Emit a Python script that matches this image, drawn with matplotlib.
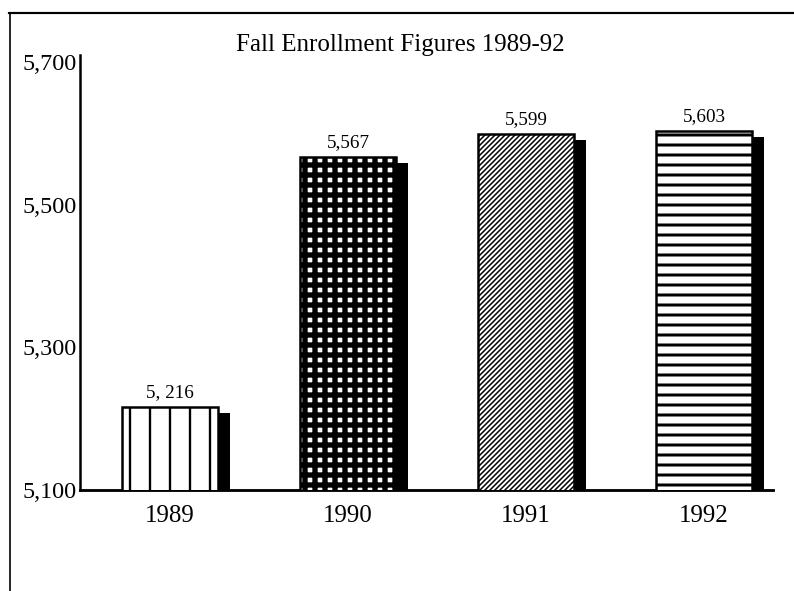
import matplotlib
matplotlib.use("Agg")
import matplotlib.pyplot as plt
from matplotlib.lines import Line2D

years = ["1989", "1990", "1991", "1992"]
enrollment = [5216, 5567, 5599, 5603]
value_labels = ["5, 216", "5,567", "5,599", "5,603"]
ytick_values = [5100, 5300, 5500, 5700]
ytick_labels = ["5,100", "5,300", "5,500", "5,700"]
title = "Fall Enrollment Figures 1989-92"

hatches = ["|", "++", "////////", "--"]
hatch_lw = [1.4, 3.2, 0.9, 1.8]

plt.rcParams["font.family"] = ["Liberation Serif", "DejaVu Serif"]

DPI = 120
fig = plt.figure(figsize=(794 / DPI, 591 / DPI), dpi=DPI)
ax = fig.add_axes([0.101, 0.171, 0.873, 0.736])

x = list(range(len(years)))
width = 0.54
shadow_dx = 0.065

# shadows
ax.bar([xi + shadow_dx for xi in x], [v - 8 for v in enrollment], width=width,
       bottom=0, color="black", edgecolor="black", linewidth=0, zorder=2)

for xi, v, h, lw in zip(x, enrollment, hatches, hatch_lw):
    with plt.rc_context({"hatch.linewidth": lw, "hatch.color": "black"}):
        b = ax.bar(xi, v, width=width, color="white", edgecolor="black",
                   linewidth=1.5, hatch=h, zorder=3)
        for p in b.patches:
            if hasattr(p, "set_hatch_linewidth"):
                p.set_hatch_linewidth(lw)

for xi, v, lab in zip(x, enrollment, value_labels):
    ax.text(xi, v + 8, lab, ha="center", va="bottom", fontsize=11.5)

ax.set_ylim(5100, 5710)
ax.set_xlim(-0.506, 3.39)
ax.set_yticks(ytick_values)
ax.set_yticklabels(ytick_labels, fontsize=14.5)
ax.set_xticks(x)
ax.set_xticklabels(years, fontsize=15)
ax.tick_params(axis="both", length=0, pad=2)
ax.tick_params(axis="x", pad=9)
for s in ["top", "right"]:
    ax.spines[s].set_visible(False)
ax.spines["left"].set_linewidth(1.5)
ax.spines["bottom"].set_linewidth(1.7)

fig.text(0.504, 0.924, title, ha="center", va="center", fontsize=15)

# page frame lines
fig.add_artist(Line2D([0.011, 1.0], [0.978, 0.978], color="black", lw=1.3,
                      transform=fig.transFigure))
fig.add_artist(Line2D([0.012, 0.012], [0.0, 0.978], color="black", lw=1.0,
                      transform=fig.transFigure))

fig.savefig("out.png", dpi=DPI)
